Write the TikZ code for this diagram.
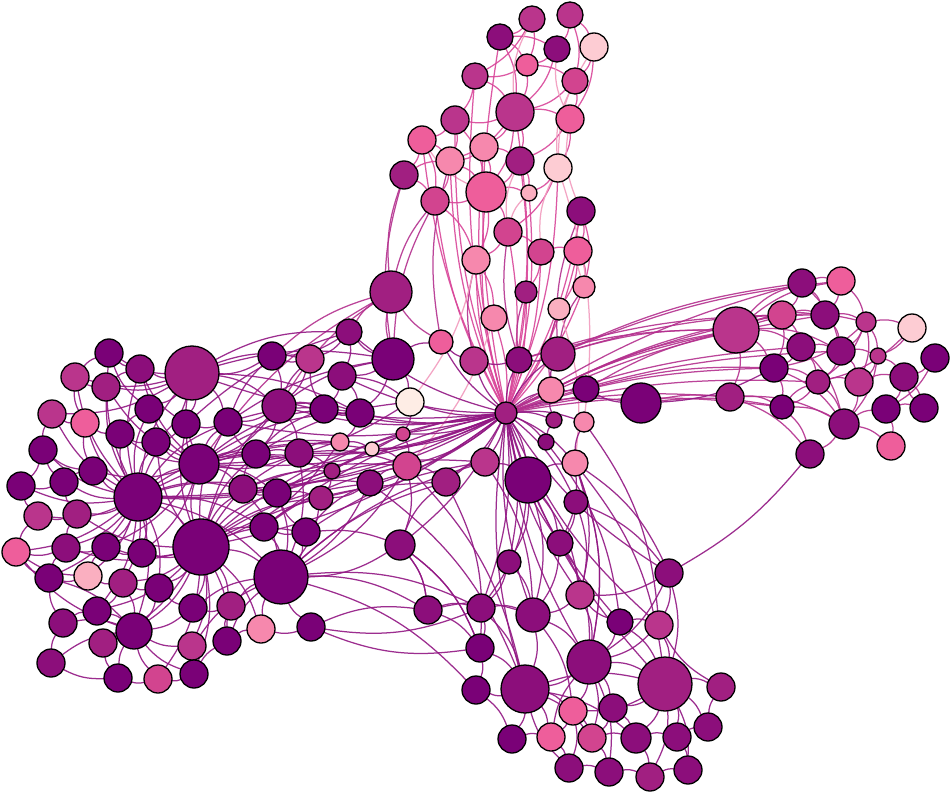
\documentclass[tikz,border=0pt]{standalone}
\usetikzlibrary{backgrounds}
\definecolor{c1}{HTML}{7A0177}
\definecolor{c2}{HTML}{8C0E7B}
\definecolor{c3}{HTML}{A11F81}
\definecolor{c4}{HTML}{BA358C}
\definecolor{c5}{HTML}{D2448F}
\definecolor{c6}{HTML}{EE5E9B}
\definecolor{c7}{HTML}{F688AD}
\definecolor{c8}{HTML}{FAAFC0}
\definecolor{c9}{HTML}{FDCCD3}
\definecolor{c10}{HTML}{FEEDE5}
\definecolor{ep}{HTML}{921783}
\definecolor{em}{HTML}{B4308E}
\definecolor{ek}{HTML}{D9469A}
\definecolor{el}{HTML}{F29BBE}
\tikzset{
  v/.style={circle,draw=black,line width=1.3pt,inner sep=0pt,outer sep=0pt},
  eb/.style={line width=1.25pt,draw opacity=0.9},
}
\begin{document}
\begin{tikzpicture}[x=1pt,y=-1pt]
\useasboundingbox (0,0) rectangle (952,794);
% ---------- nodes ----------
\foreach \n/\x/\y/\r/\c in {
T1/532/19/13/c4, T2/570/15/13/c4, T3/500/37/13/c2, T4/557/49/13/c2, T5/594/47/14/c9,
T6/527/65/11/c6, T7/475/76/13/c4, T8/575/81/13/c5, T9/515/112/19/c4, T10/455/120/14/c4,
T11/570/119/14/c6, T12/422/140/14/c6, T13/484/147/14/c7, T14/450/161/14/c7, T15/520/161/14/c3,
T16/558/168/14/c9, T17/404/175/14/c3, T18/486/192/20/c6, T19/435/201/14/c5, T20/529/193/8/c8,
T21/581/211/14/c2, T22/508/232/14/c5, T23/476/260/14/c7, T24/541/252/13/c5, T25/578/251/14/c6,
T26/391/292/21/c3, T27/526/292/11/c3, T28/584/287/11/c7, T29/494/318/13/c7, T30/559/309/11/c8,
M1/506/413/11/c3, M2/441/342/12/c6, M3/474/361/14/c4, M4/519/360/13/c2, M5/558/354/17/c3,
M6/551/390/13/c7, M7/586/389/13/c1, M8/641/403/20/c1, M9/554/420/8/c3, M10/584/422/10/c7,
M11/546/442/8/c2, M12/575/463/13/c7, M13/528/480/23/c1, M14/485/462/14/c4, M15/446/482/14/c3,
M16/407/466/14/c5, M17/576/502/12/c2, M18/400/545/15/c2, M19/410/402/14/c10, M20/403/434/7/c5,
M21/393/359/21/c1, M22/349/332/13/c2, M23/342/376/14/c2, M24/360/413/14/c1, M25/324/409/14/c1,
M26/310/359/14/c4, M27/340/442/9/c7, M28/372/449/7/c9, M29/332/471/8/c3, M30/370/483/13/c2,
M31/321/498/12/c3, M32/299/453/14/c2, M33/272/356/14/c1,
L1/109/353/14/c1, L2/140/369/14/c2, L3/192/373/27/c3, L4/75/377/14/c4, L5/106/387/14/c3,
L6/52/414/14/c4, L7/85/423/14/c6, L8/149/409/14/c1, L9/120/434/14/c1, L10/156/442/14/c1,
L11/186/424/14/c1, L12/228/422/14/c1, L13/279/406/17/c2, L14/43/450/14/c1, L15/93/471/14/c1,
L16/199/464/20/c1, L17/256/454/14/c1, L18/21/486/14/c1, L19/64/482/14/c1, L20/138/497/24/c1,
L21/243/489/14/c2, L22/277/493/14/c1, L23/38/516/14/c4, L24/77/514/14/c3, L25/16/552/14/c6,
L26/66/548/14/c2, L27/106/547/14/c1, L28/142/553/14/c1, L29/201/547/28/c1, L30/264/527/14/c1,
L31/306/532/14/c1, L32/49/578/14/c1, L33/88/576/14/c8, L34/123/583/14/c3, L35/159/588/14/c1,
L36/281/577/27/c1, L37/97/611/14/c1, L38/193/608/14/c1, L39/231/606/14/c3, L40/63/623/14/c2,
L41/134/631/18/c1, L42/103/643/14/c3, L43/192/646/14/c4, L44/261/629/14/c7, L45/227/641/14/c1,
L46/311/627/14/c1, L47/51/663/14/c2, L48/118/678/14/c1, L49/158/679/14/c5, L50/194/674/14/c1,
R1/736/330/23/c4, R2/802/283/14/c2, R3/841/281/14/c6, R4/782/315/14/c5, R5/825/315/14/c2,
R6/866/322/10/c4, R7/912/328/14/c9, R8/801/347/14/c2, R9/841/351/14/c2, R10/878/356/8/c4,
R11/935/358/14/c1, R12/774/368/14/c1, R13/818/382/12/c3, R14/859/382/14/c4, R15/904/377/14/c2,
R16/730/397/14/c3, R17/782/407/12/c1, R18/844/424/15/c2, R19/886/409/14/c1, R20/924/408/14/c1,
R21/810/454/14/c2, R22/891/446/14/c6,
B1/669/573/14/c2, B2/509/562/12/c2, B3/560/543/13/c2, B4/580/595/14/c4, B5/428/610/14/c2,
B6/481/608/14/c2, B7/533/615/17/c2, B8/620/622/13/c1, B9/659/625/14/c4, B10/480/648/14/c1,
B11/589/662/22/c2, B12/525/689/24/c2, B13/665/684/27/c3, B14/476/690/14/c1, B15/721/687/14/c3,
B16/573/711/14/c6, B17/613/708/14/c2, B18/512/739/14/c1, B19/551/737/14/c6, B20/592/738/14/c5,
B21/636/738/15/c2, B22/677/737/14/c2, B23/708/727/14/c2, B24/569/768/14/c2, B25/609/772/14/c2,
B26/650/777/14/c3, B27/688/770/14/c2}
  \node[v,fill=\c,minimum size=2*\r pt] (\n) at (\x,\y) {};
% ---------- edges ----------
\begin{scope}[on background layer]
\fill[white] (0,0) rectangle (952,794);
% top cluster (pink)
\foreach \a/\b in {T1/T3,T1/T6,T1/T7,T2/T4,T2/T5,T2/T8,T3/T6,T3/T9,T4/T6,T4/T9,T5/T8,T5/T11,T6/T7,
  T6/T9,T7/T10,T7/T9,T8/T9,T8/T11,T9/T10,T9/T13,T9/T15,T9/T18,T9/T14,T10/T12,T10/T14,T11/T15,
  T11/T16,T12/T14,T12/T17,T12/T19,T13/T14,T13/T18,T14/T18,T15/T18,T15/T20,T16/T20,T16/T22,
  T17/T19,T18/T19,T18/T22,T18/T23,T18/T20,T21/T25,T21/T28,T22/T24,T22/T23,
  T24/T25,T24/T27,T25/T28,T25/T30,T23/T29,T19/T23,T14/T19,T10/T18,T9/T11,T6/T8,T3/T4,T13/T15,T17/T14}
  \draw[eb,ek] (\a) to[bend left=15] (\b);
\foreach \a/\b in {T5/T16,T1/T9,T4/T11,T12/T18,T16/T24,T20/T22,T15/T22,T11/T21,T8/T16,T21/T28}
  \draw[eb,el] (\a) to[bend right=15] (\b);
% top to hub and middle
\foreach \a/\b in {M1/T9,M1/T15,M1/T22,M1/T24,M1/T27,M1/T29,M1/T20,M1/T16,M1/T30,M1/T28,M1/T25,M1/T21}
  \draw[eb,ek] (\a) to[bend right=10] (\b);
\foreach \a/\b in {M1/T13,M1/T18,M1/T23,M1/T19,M1/T14,M1/T10,M1/T3,M1/T7,M1/T12}
  \draw[eb,ek] (\a) to[bend left=10] (\b);
\foreach \a/\b in {T17/M21,T26/M21,T26/L13,T26/M22,T26/M33,T26/M2,T23/M3,T22/M4,T27/M4,
  T30/M6,T28/M5,T21/M5,T19/T26,T17/T26,T26/L16,T19/M21,T14/M2}
  \draw[eb,em] (\a) to[bend right=12] (\b);
\foreach \a/\b in {T23/M19,T29/M16,T16/M10,T30/M12}
  \draw[eb,el] (\a) to[bend left=12] (\b);
% hub to middle/left/bottom
\foreach \a/\b in {M1/M4,M1/M5,M1/M6,M1/M3,M1/M2,M1/M7,M1/M8,M1/M9,M1/M10,M1/M11,M1/M12,M1/M13,
  M1/M14,M1/M15,M1/M16,M1/M19,M1/M20,M1/M24,M1/M28,M1/M30,M1/M31,M1/M22,M1/M23,M1/L13,M1/L16,
  M1/L17,M1/L12,M1/L21,M1/L20,M1/L29,M1/M32,M1/M25,M1/L3,M1/M18,M1/B6,M1/M17,M1/B2}
  \draw[eb,ep] (\a) to[bend left=12] (\b);
\foreach \a/\b in {M1/B1,M1/B3,M1/B4,M1/B7,M1/B11,M1/B12,M1/B13,M1/B8,M1/B9,M1/L22,M1/L30,M1/M29}
  \draw[eb,ep] (\a) to[bend right=12] (\b);
% hub/middle to right
\foreach \a/\b in {M1/R1,M1/R2,M1/R4,M1/R5,M1/R8,M1/R12,M1/R16,M1/R17,M1/R13,M1/R9,M5/R1,M5/R2,
  M5/R3,M6/R4,M7/R12,M8/R16,M8/R17,M4/R1,M6/R1,M7/R1,M5/R5,M4/R4}
  \draw[eb,em] (\a) to[bend left=8] (\b);
\foreach \a/\b in {M7/M8,M8/R12,M5/M6,M4/M5,M3/M4,M2/M3,M6/M9,M10/M12,M9/M11}
  \draw[eb,ep] (\a) to[bend right=12] (\b);
% middle region
\foreach \a/\b in {M21/M22,M21/M23,M21/M24,M21/M19,M22/M26,M22/M23,M23/M25,M23/M24,M24/M25,
  M25/M26,M26/M33,M26/L13,M33/L13,M33/L3,L13/M25,L13/M32,L13/L12,L13/L16,L13/L17,M32/M29,M32/M27,
  M32/L17,M32/L16,M29/M31,M30/M31,M30/M16,M16/M15,M15/M14,M14/M13,M13/M12,M13/B7,M13/B3,M12/B4,
  M12/B11,M17/B3,M17/B4,M16/M18,M18/B5,M18/L36,M18/B10,M18/M15,M19/M20,M20/M16,M27/M28,M28/M16,
  M20/L20,M19/L16,M28/L20,M27/L29,M21/M2,M22/M33,M24/M27,M23/M19}
  \draw[eb,ep] (\a) to[bend left=15] (\b);
% right cluster
\foreach \a/\b in {R1/R2,R1/R4,R1/R5,R1/R8,R1/R12,R1/R16,R1/R9,R1/R6,R2/R5,R2/R4,R2/R3,R3/R6,R3/R5,
  R4/R8,R4/R5,R5/R6,R5/R9,R6/R9,R6/R10,R6/R13,R6/R7,R6/R14,R6/R12,R7/R10,R7/R13,R8/R9,R8/R12,R8/R13,
  R9/R10,R9/R14,R9/R13,R10/R14,R10/R15,R10/R18,R11/R15,R11/R19,R12/R17,R12/R13,R13/R14,R13/R18,
  R13/R17,R14/R15,R14/R18,R15/R19,R15/R20,R16/R17,R16/R21,R17/R18,R17/R21,R18/R19,R18/R21,R18/R22,
  R19/R20,R19/R22,R20/R15,R8/R18,R12/R18,R4/R12,R17/R13,R16/R18,R1/R3,R2/R9}
  \draw[eb,em] (\a) to[bend left=15] (\b);
\draw[eb,ep] (R21) to[bend left=10] (B1);
% bottom cluster
\foreach \a/\b in {B1/B9,B1/B11,B1/B4,B2/B7,B2/B6,B3/B7,B3/B11,B4/B11,B4/B7,B5/B6,B5/B7,B5/B10,
  B6/B7,B6/B10,B6/B12,B7/B11,B7/B12,B7/B16,B8/B9,B8/B11,B8/B13,B8/B4,B9/B13,B9/B11,B10/B12,B10/B14,
  B11/B12,B11/B13,B11/B16,B11/B17,B11/B20,B12/B14,B12/B18,B12/B19,B12/B16,B12/B13,B12/B20,B13/B15,
  B13/B17,B13/B21,B13/B22,B13/B23,B13/B27,B13/B26,B13/B16,B14/B18,B16/B19,B16/B20,B16/B24,B17/B21,
  B17/B20,B18/B19,B19/B24,B20/B25,B20/B21,B21/B22,B21/B26,B22/B27,B22/B23,B23/B15,B24/B25,B25/B26,
  B26/B27,B24/B12,B11/B25,B12/B21,B19/B11,B15/B9,B1/B13,B3/B4}
  \draw[eb,ep] (\a) to[bend left=15] (\b);
% bottom to middle/left
\foreach \a/\b in {B5/M18,B5/L36,B5/L46,B6/M13,B10/M15,B2/M13,B3/M12,B11/M12,B12/M16,B13/M12,
  B9/M10,B8/M11,B1/M12,B6/L36,L46/B6,B12/M30,B10/M18,B14/L36,L46/B10,B7/M14,B4/M13,B1/M17}
  \draw[eb,ep] (\a) to[bend right=15] (\b);
% left cluster
\foreach \a/\b in {L20/L1,L20/L2,L20/L5,L20/L7,L20/L8,L20/L9,L20/L10,L20/L14,L20/L15,L20/L18,L20/L19,
  L20/L23,L20/L24,L20/L25,L20/L26,L20/L27,L20/L28,L20/L32,L20/L33,L20/L34,L20/L35,L20/L37,L20/L41,
  L20/L16,L20/L29,L20/L3,L20/L11,L20/L12,L20/L17,L20/L21,L20/L22,L20/L30,L20/L6,L20/L4,
  L29/L16,L29/L21,L29/L22,L29/L28,L29/L30,L29/L31,L29/L34,L29/L35,L29/L36,L29/L38,L29/L39,
  L29/L41,L29/L43,L29/L45,L29/L44,L29/L27,L29/L26,L29/L24,L29/L12,L29/L11,L29/L10,L29/L17,L29/L13,
  L29/M32,L29/M31,L29/L50,L29/L49,L29/L37,L29/L42,
  L16/L3,L16/L8,L16/L10,L16/L11,L16/L12,L16/L17,L16/L21,L16/L15,L16/L9,L16/L5,L16/L2,
  L16/M25,L16/L22,L16/L28,L16/L27,L16/M29,L16/M24,
  L3/L1,L3/L2,L3/L5,L3/L8,L3/L11,L3/L12,L3/L13,L3/L4,L3/L6,L3/L10,L3/M26,L3/M22}
  \draw[eb,ep] (\a) to[bend left=15] (\b);
\foreach \a/\b in {L36/L30,L36/L31,L36/L39,L36/L44,L36/L46,L36/L22,L36/L21,L36/M31,L36/M30,
  L36/L38,L36/L45,L36/L43,L36/L20,L36/M32,L36/M16,
  L41/L37,L41/L42,L41/L40,L41/L47,L41/L48,L41/L49,L41/L43,L41/L35,L41/L34,L41/L50,L41/L38,L41/L32,
  L1/L2,L1/L4,L2/L5,L4/L5,L6/L7,L6/L14,L7/L9,L8/L9,L9/L10,L14/L15,L14/L19,L15/L19,L18/L19,L18/L23,
  L19/L24,L23/L24,L23/L25,L25/L26,L26/L27,L26/L32,L27/L28,L27/L33,L32/L33,L32/L40,L33/L34,L34/L35,
  L35/L38,L37/L40,L40/L47,L42/L48,L43/L50,L45/L50,L44/L46,L38/L39,L39/L45,L44/L45,L17/L21,L21/L22,
  L22/L31,L30/L31,L12/L17,L11/L12,L25/L32,L47/L48,L48/L49,L49/L50,L18/L14,L25/L33,L25/L41,L37/L34,
  L7/L15,L4/L7,L24/L26,L1/L8,L2/L11}
  \draw[eb,ep] (\a) to[bend right=15] (\b);
% left to middle
\foreach \a/\b in {L13/M24,L13/M21,L12/M24,L17/M25,L17/M32,L21/M29,L22/M31,L22/M30,L30/M31,L31/M30,
  L31/M18,L30/M16,L16/M27,L16/M28,L20/M27,L29/M15,L29/M30,L36/M15,L21/M16,L12/M21,L3/M24,
  L11/M22,L17/M19,L22/M14,L31/M14,L36/M14,M32/M16,L29/M20,L13/M26,L12/M33,L3/M21}
  \draw[eb,ep] (\a) to[bend left=12] (\b);
\end{scope}
\end{tikzpicture}
\end{document}
